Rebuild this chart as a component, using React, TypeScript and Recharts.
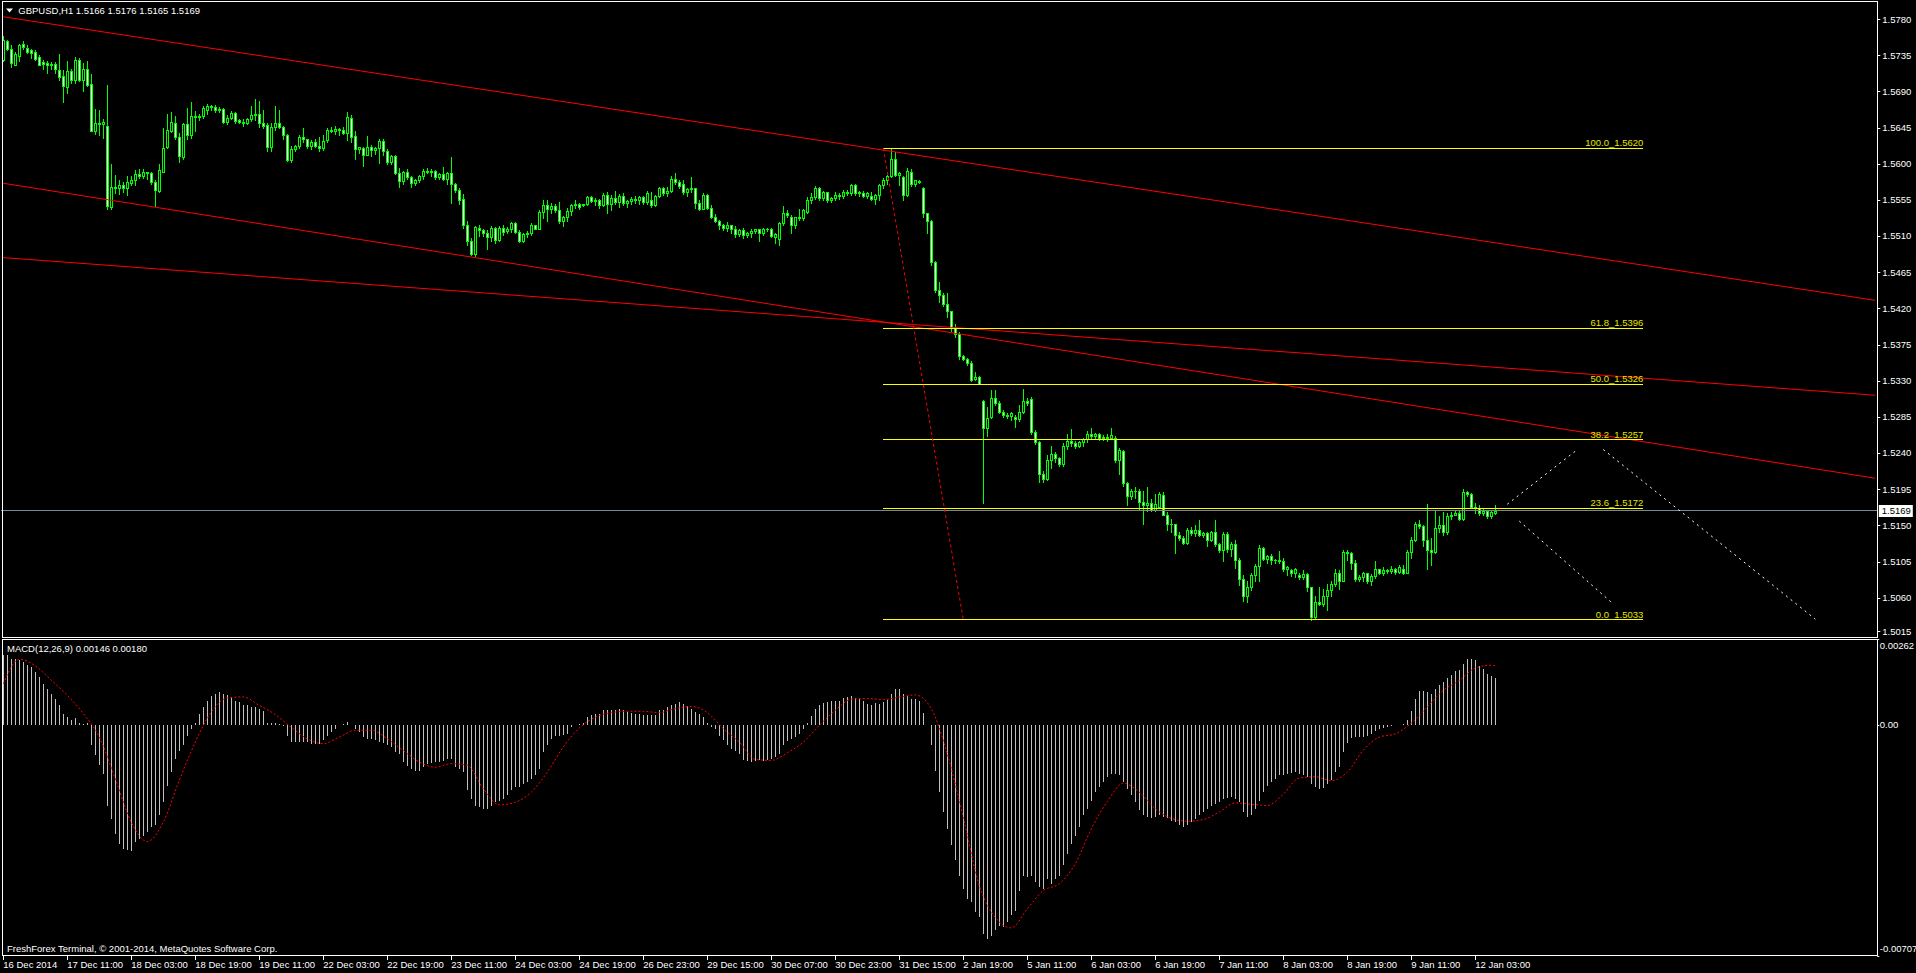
import { ComposedChart, Bar, Line, XAxis, YAxis, ReferenceLine } from "recharts";

// GBPUSD H1 candles, prices in pips above 1.5000: [open, high, low, close]
const candlesMidDec = [
  [730,760,728,755],[754,755,742,743],[743,748,721,726],[724,740,723,737],[735,750,729,749],
  [750,753,744,746],[745,748,738,740],[742,743,732,739],[740,742,730,731],[733,736,723,724],
  [727,730,718,725],[726,728,714,724],[725,727,718,724],[725,727,714,718],[717,737,705,709],
  [710,717,677,697],[696,728,689,716],[716,718,701,705],[705,734,701,730],[730,732,704,705],
  [705,726,691,719],[719,728,698,699],[700,713,641,642],[642,669,638,652],[652,667,637,650],
  [650,656,633,653],[648,699,545,548],[547,601,544,572],[572,587,564,570],[570,581,563,574],
  [574,578,566,570],[570,585,562,578],[577,586,574,581],[580,593,574,588],[588,594,583,586],
  [586,594,583,591],[590,591,582,589],[589,590,576,578],[578,580,548,568],[567,600,566,593],
  [591,645,590,620],[621,662,620,643],[642,665,640,653],[652,660,632,634],[634,639,603,610],
  [609,652,606,650],[650,670,632,636],[636,677,633,660],[660,666,641,659],[659,662,655,660],
  [660,672,658,670],[668,675,663,673],[673,674,668,671],[671,674,665,667],[667,671,665,669],
  [669,670,652,653],[653,661,650,658],[658,666,656,664],[664,665,652,654],[655,656,651,653],
  [653,656,648,652],[652,658,650,656],[656,672,654,661],[661,681,655,663],[663,679,647,652],
  [652,668,645,648],[649,652,617,621],[622,652,616,647],[646,673,643,651],[651,668,645,647],
  [647,648,632,636],[637,638,604,605],[605,623,603,619],[619,624,617,623],[623,636,620,634],
  [634,645,628,631],[631,632,620,623],[623,630,619,628],[628,631,621,623],[623,634,617,620],
  [620,637,618,629],[630,645,628,643],[643,646,640,641],[641,648,638,644],[644,645,636,643],
  [643,646,638,639],[639,665,630,659],[658,661,628,634],[635,642,607,619],[619,622,614,621],
  [620,622,598,612],[612,635,612,622],[622,624,610,618],[618,622,613,620],[620,632,602,629],
  [629,631,612,616],[616,619,600,603]
];

const candlesLateDec = [
  [603,612,601,610],[610,612,588,589],[589,596,572,579],
  [579,592,575,590],[590,594,582,584],[584,585,572,577],[577,582,574,580],[580,587,578,585],
  [585,594,582,592],[592,596,589,591],[591,594,586,592],[592,593,582,584],[584,589,582,588],
  [588,597,580,582],[582,591,576,589],[589,609,552,575],[575,577,566,568],[568,571,550,556],
  [557,563,521,524],[524,530,500,504],[505,508,487,489],[489,523,486,522],[521,524,511,518],
  [518,519,511,515],[515,518,494,510],[510,523,505,521],[521,522,502,506],[506,523,504,521],
  [521,525,512,516],[517,522,514,520],[520,528,516,527],[527,528,514,516],[516,518,503,505],
  [505,514,503,513],[513,517,510,514],[514,527,512,524],[524,525,519,520],[520,543,519,541],
  [541,555,533,549],[549,555,530,545],[545,552,540,548],[548,551,541,543],[543,553,527,529],
  [529,536,523,535],[535,546,530,542],[542,551,537,549],[549,556,546,551],[551,552,545,547],
  [549,550,548,550],[550,561,549,559],[559,560,553,554],[554,558,549,556],[556,557,546,549],
  [549,564,548,562],[562,565,540,551],[551,562,543,558],[558,567,550,553],[553,563,547,561],
  [561,564,549,552],[552,556,547,554],[554,559,550,557],[557,561,552,555],[555,561,551,559],
  [559,560,550,553],[553,567,551,564],[556,565,547,549],[549,562,548,561],[561,572,559,570],
  [570,572,562,564],[564,572,560,567],[567,585,565,582],[582,589,576,578],[578,580,570,573],
  [576,580,563,565],[565,570,560,569],[569,584,566,570],[570,571,546,552],[552,555,543,545],
  [545,564,544,562],[562,563,544,546],[546,549,533,535],[535,538,528,530],[530,531,520,524],
  [524,526,518,521],[521,528,517,524],[524,525,514,520],[520,523,510,513],[513,519,511,518],
  [518,521,508,512],[512,516,509,515],[515,519,510,517],[517,520,514,519],[519,520,505,515],
  [515,521,512,519],[519,521,517,520]
];

const candlesNewYear = [
  [520,521,510,511],[510,514,502,513],[507,528,500,527],
  [527,548,524,539],[539,543,534,537],[534,537,514,524],[524,535,521,534],[534,545,531,533],
  [533,545,531,543],[541,559,539,556],[556,564,552,559],[559,573,557,570],[570,572,556,558],
  [558,567,556,565],[565,566,553,555],[556,559,553,558],[558,565,556,562],[562,564,557,560],
  [560,568,558,566],[566,568,562,564],[564,576,562,574],[574,575,562,564],[564,567,561,566],
  [564,567,559,561],[561,565,558,564],[561,565,555,557],[557,563,550,562],[562,576,556,574],
  [574,583,571,580],[580,587,576,585],[585,620,584,607],[606,615,586,587],[587,590,574,589],
  [584,585,556,562],[562,596,560,592],[590,594,573,576],[576,581,573,580],[579,580,577,578],
  [571,572,534,539],[539,540,515,529],[530,531,475,479],[478,480,441,444],[444,453,429,437],
  [437,440,424,426],[426,440,410,417],[417,418,393,396],[396,401,385,389],[389,391,358,361],
  [361,363,356,358],[358,359,350,353],[353,355,330,332],[333,341,331,335],[335,336,326,327],
  [305,307,179,272],[272,298,262,284],[285,319,284,309],[309,319,301,303],[303,305,290,292],
  [292,294,285,288],[288,291,284,287],[287,292,282,290],[286,288,273,283],[283,300,281,292],
  [292,320,290,305],[305,309,300,303],[308,310,265,267],[267,269,252,254],[254,256,205,215],
  [215,218,205,208],[209,238,207,232],[232,249,222,240],[240,242,230,234],[234,236,224,227],
  [227,253,225,250],[250,264,246,256],[256,271,250,253],[253,256,247,249],[249,256,248,254],
  [254,260,249,258],[258,268,255,265],[265,272,260,262],[262,266,258,264],[264,266,257,259],
  [259,263,257,261],[261,264,256,259],[259,272,258,263],[259,262,229,232],[232,247,215,245],
  [243,245,200,203],[203,205,176,187],[187,196,183,194],[194,198,185,193],[193,196,170,180],
  [180,193,153,176],[176,199,169,178]
];

const candlesJan = [
  [178,184,168,170],[170,190,168,177],[174,192,172,190],
  [189,192,163,164],[164,167,145,153],[153,158,142,152],[152,153,116,139],[139,142,133,135],
  [135,138,127,129],[129,147,128,145],[145,149,139,141],[141,151,137,145],[145,157,138,139],
  [139,143,136,141],[141,143,125,132],[132,144,131,142],[142,157,125,127],[127,129,117,120],
  [120,143,106,140],[140,142,118,121],[121,130,113,128],[128,133,98,107],[107,110,76,84],
  [84,89,56,63],[63,82,55,74],[74,91,70,89],[89,103,82,100],[100,126,81,122],
  [122,124,107,109],[109,114,104,112],[112,115,102,107],[107,109,104,108],[108,119,104,106],
  [106,110,94,96],[96,100,89,99],[95,97,88,91],[91,98,86,96],[89,92,84,87],
  [87,95,84,90],[90,91,69,74],[74,74,33,37],[37,63,35,55],[55,74,51,53],
  [53,72,50,63],[63,78,45,70],[70,82,63,78],[78,96,75,92],[92,95,72,82],
  [82,120,81,118],[118,120,107,116],[116,118,96,104],[104,107,81,84],[84,89,82,87],
  [87,93,81,91],[91,92,79,82],[82,90,76,88],[88,106,85,96],[96,97,90,92],
  [92,99,89,95],[95,97,91,94],[94,100,92,96],[96,98,90,93],[93,101,91,99],
  [97,101,90,92],[92,120,91,117],[117,136,110,132],[132,155,131,152],[152,157,147,150],
  [150,151,125,132],[132,177,97,120],[120,135,101,117],[117,170,116,147],[147,162,142,151],
  [151,167,139,142],[142,166,140,162],[162,167,158,164],[164,169,163,166],[166,170,157,158],
  [158,196,157,192],[192,194,187,190],[190,191,172,174],[174,178,166,172],[172,176,164,166],
  [166,171,163,168],[168,170,160,162],[162,168,160,167],[166,176,165,169]
];

// MACD(12,26,9) main buffer, units of 0.00001
const macdDec = [
  212,212,202,200,197,192,184,176,161,146,
  125,110,95,80,59,34,24,13,20,6,
  3,6,-63,-94,-124,-150,-247,-288,-334,-364,
  -379,-383,-385,-359,-349,-339,-328,-313,-308,-277,
  -237,-186,-145,-104,-79,-63,-35,-12,6,34,
  54,74,87,95,100,95,90,85,74,69,
  61,59,54,54,49,41,6,6,6,3,
  -3,-33,-53,-53,-53,-53,-53,-58,-58,-58,
  -48,-33,-22,-12,-2,3,8,-2,-12,-22,
  -38,-43,-45,-48,-53,-55,-63,-68,-84,-89,
  -114,-126,-135,-140,-140,-130,-119,-116,-114,-114,
  -112,-104,-104,-130,-135,-145,-201,-226,-247,-252,
  -257,-259,-247,-237,-232,-226,-216,-201,-191,-191,
  -181,-175,-165,-153,-135,-84,-63,-43,-35,-33,
  -31,-28,-7,-2,1,6,23,31,34,34,
  44,44,44,44,47,44,39,37,34,34,
  29,31,29,29,44,44,54,59,64,69,
  64,57,49,39,34,23,6,-7,-12,-33,
  -48,-63,-73,-79,-89,-109,-112,-114,-112
];

const macdJan = [
  -109,-112,-109,-104,-99,-89,-63,-51,-45,-38,-28,
  -12,6,26,49,59,67,69,71,73,74,
  82,85,87,82,80,74,64,59,66,64,
  69,77,95,108,108,95,87,80,80,74,
  37,-2,-63,-140,-206,-267,-318,-369,-415,-461,
  -502,-532,-543,-573,-589,-640,-655,-645,-629,-614,
  -619,-604,-583,-568,-507,-461,-466,-461,-481,-497,
  -502,-471,-487,-471,-461,-430,-395,-364,-339,-313,
  -277,-257,-232,-206,-191,-175,-160,-150,-150,-155,
  -175,-196,-216,-237,-262,-277,-283,-286,-283,-277,
  -283,-286,-293,-298,-308,-313,-306,-298,-288,-277,
  -267,-257,-249,-242,-237,-226,-224,-221,-226,-237,
  -267,-283,-277,-257,-232,-206,-186,-175,-165,-155,
  -153,-150,-147,-145,-150,-153,-160,-181,-191,-196,
  -194,-181,-170,-145,-130,-84,-55,-41,-38,-38,
  -38,-33,-28,-20,-12,-10,-7,-4,-2,-2,
  3,13,41,78,102,102,100,95,110,122,
  131,143,153,163,166,187,202,200,197,180,
  171,156,149,143
];

// signal line read every 4th bar, the last value is the current bar
const signalSamples = [
  125,200,180,136,90,34,-38,-165,-298,-357,-298,-170,-53,39,82,85,
  59,31,-8,-43,-58,-38,-17,-17,-43,-79,-114,-130,-119,-124,-196,-245,
  -237,-206,-145,-68,-10,23,37,41,41,37,49,56,37,-12,-53,-106,
  -109,-86,-53,-2,44,78,80,77,84,91,49,-89,-283,-492,-589,-621,
  -563,-507,-486,-425,-318,-235,-179,-206,-257,-286,-295,-290,-267,-239,-243,-247,
  -212,-163,-159,-171,-145,-78,-38,-28,5,54,105,135,173,182,180
];

const dateLabels = [
  "16 Dec 2014", "17 Dec 11:00", "18 Dec 03:00", "18 Dec 19:00", "19 Dec 11:00",
  "22 Dec 03:00", "22 Dec 19:00", "23 Dec 11:00", "24 Dec 03:00", "24 Dec 19:00",
  "26 Dec 23:00", "29 Dec 15:00", "30 Dec 07:00", "30 Dec 23:00", "31 Dec 15:00",
  "2 Jan 19:00", "5 Jan 11:00", "6 Jan 03:00", "6 Jan 19:00", "7 Jan 11:00",
  "8 Jan 03:00", "8 Jan 19:00", "9 Jan 11:00", "12 Jan 03:00"
];

const priceTicks = [
  1.5015, 1.506, 1.5105, 1.515, 1.5195, 1.524, 1.5285, 1.533, 1.5375,
  1.542, 1.5465, 1.551, 1.5555, 1.56, 1.5645, 1.569, 1.5735, 1.578
];
const macdTicks = [0.00262, 0, -0.00707];

const fibLevels = [100, 61.8, 50, 38.2, 23.6, 0];
const fibPrices = [1.562, 1.5396, 1.5326, 1.5257, 1.5172, 1.5033];
const fibBars = [220, 410];
const fibAnchor = [220, 1.562, 240, 1.5033];

// red channel lines: price at the first bar and at the right edge
const trendLines = [
  [1.57836, 1.54307],
  [1.55764, 1.52093],
  [1.54839, 1.53126]
];
// white dotted projections: [bar, price, bar, price]
const projections = [
  [376, 1.5177, 393, 1.5243],
  [400, 1.5245, 453, 1.5034],
  [379, 1.5156, 402, 1.5055]
];
const bidPrice = 1.5169;

const SLOTS = 469; // chart shift leaves empty room after the last bar
const FONT = "'Liberation Sans', Arial, sans-serif";
const LIME = "#00ff00";

const candles = [...candlesMidDec, ...candlesLateDec, ...candlesNewYear, ...candlesJan];
const macd = [...macdDec, ...macdJan];
const lastBar = candles.length - 1;
const pip = (v: number) => 1.5 + v / 10000;

const priceRows = Array.from({ length: SLOTS }, (_, i) => {
  const c = candles[i];
  return c
    ? { i, open: pip(c[0]), high: pip(c[1]), low: pip(c[2]), close: pip(c[3]) }
    : { i };
});

const signalAt = new Map(signalSamples.map((v, k) => [Math.min(k * 4, lastBar), v]));
const macdRows = Array.from({ length: SLOTS }, (_, i) => ({
  i,
  hist: i < macd.length ? macd[i] / 1e5 : undefined,
  signal: signalAt.has(i) ? (signalAt.get(i) as number) / 1e5 : undefined
}));

const Candle = (props: any) => {
  const { x, y, width, height, payload } = props;
  if (!payload || payload.high === undefined) return null;
  const top = Math.min(y, y + height);
  const span = Math.abs(height);
  const range = payload.high - payload.low;
  const at = (p: number) => (range > 0 ? top + ((payload.high - p) / range) * span : top);
  const col = Math.floor(x + width / 2);
  const yO = at(payload.open);
  const yC = at(payload.close);
  const bodyTop = Math.round(Math.min(yO, yC));
  const bodyBot = Math.round(Math.max(yO, yC));
  const bear = payload.close < payload.open;
  return (
    <g shapeRendering="crispEdges">
      <line
        x1={col + 0.5}
        x2={col + 0.5}
        y1={Math.round(top)}
        y2={Math.round(top + span) + 1}
        stroke={LIME}
      />
      {bodyBot - bodyTop < 1 ? (
        <line x1={col - 1} x2={col + 2} y1={bodyTop + 0.5} y2={bodyTop + 0.5} stroke={LIME} />
      ) : (
        <rect
          x={col - 0.5}
          y={bodyTop + 0.5}
          width={2}
          height={bodyBot - bodyTop}
          fill={bear ? "#ffffff" : "#000000"}
          stroke={LIME}
        />
      )}
    </g>
  );
};

const HistBar = (props: any) => {
  const { x, y, width, height } = props;
  if (!height) return null;
  const col = Math.floor(x + width / 2);
  const y1 = Math.min(y, y + height);
  const y2 = Math.max(y, y + height);
  return (
    <line x1={col + 0.5} x2={col + 0.5} y1={y1} y2={y2} stroke="#c0c0c0" shapeRendering="crispEdges" />
  );
};

const PriceTick = ({ x, y, payload }: any) => {
  const v = Number(payload.value);
  // MT4 keeps the lowest label clear of the panel border
  const shift = v === priceTicks[0] ? -3 : -0.5;
  return (
    <g>
      <line x1={x} x2={x + 3} y1={Math.round(y + shift) + 0.5} y2={Math.round(y + shift) + 0.5} stroke="#fff" />
      <text x={x + 5} y={y + shift} dy="0.35em" fill="#fff" fontSize={9.5} fontFamily={FONT}>
        {v.toFixed(4)}
      </text>
    </g>
  );
};

const MacdTick = ({ x, y, payload }: any) => {
  const v = Number(payload.value);
  const shift = v === macdTicks[0] ? 6.6 : v === macdTicks[2] ? -7.5 : 0;
  return (
    <g>
      <line x1={x} x2={x + 2} y1={Math.round(y) + 0.5} y2={Math.round(y) + 0.5} stroke="#fff" />
      <text x={x + 2.5} y={y + shift} dy="0.35em" fill="#fff" fontSize={9.5} fontFamily={FONT}>
        {v === 0 ? "0.00" : v.toFixed(5)}
      </text>
    </g>
  );
};

const DateTick = ({ x, y, payload }: any) => {
  const label = dateLabels[Math.round(Number(payload.value) / 16)];
  const col = Math.floor(x) + 0.5;
  return (
    <g>
      <line x1={col} x2={col} y1={y} y2={y + 4} stroke="#fff" />
      <text x={x} y={y + 8.3} dy="0.35em" fill="#fff" fontSize={9.5} fontFamily={FONT}>
        {label}
      </text>
    </g>
  );
};

const FibLabel = ({ viewBox, text }: any) => {
  if (!viewBox) return null;
  return (
    <text
      x={viewBox.x + viewBox.width}
      y={viewBox.y - 2}
      textAnchor="end"
      fill="#e6e600"
      fontSize={9.5}
      fontFamily={FONT}
    >
      {text}
    </text>
  );
};

const BidBox = ({ viewBox }: any) => {
  if (!viewBox) return null;
  const bx = viewBox.x + viewBox.width + 1.5;
  const by = Math.round(viewBox.y) - 6;
  return (
    <g>
      <rect x={bx} y={by} width={34} height={12} fill="#fff" />
      <text x={bx + 3} y={by + 6} dy="0.35em" fill="#000" fontSize={9.5} fontFamily={FONT}>
        {bidPrice.toFixed(4)}
      </text>
    </g>
  );
};

export default function App() {
  return (
    <div
      style={{
        position: "fixed",
        left: 0,
        top: 0,
        width: 1916,
        height: 973,
        background: "#000",
        overflow: "hidden"
      }}
    >
      <div style={{ position: "absolute", left: 0, top: 0 }}>
        <ComposedChart
          width={1916}
          height={637}
          data={priceRows}
          margin={{ top: 2, right: 0, bottom: 1, left: 1.3 }}
          barCategoryGap={0}
        >
          <XAxis dataKey="i" type="category" hide />
          <YAxis
            orientation="right"
            width={38.7}
            domain={[1.5013, 1.5802]}
            allowDataOverflow
            ticks={priceTicks}
            interval={0}
            tick={<PriceTick />}
            tickSize={0}
            tickMargin={0}
            axisLine={false}
            tickLine={false}
          />
          <ReferenceLine
            y={bidPrice}
            stroke="#778899"
            shapeRendering="crispEdges"
            label={<BidBox />}
          />
          {trendLines.map((t, k) => (
            <ReferenceLine
              key={`t${k}`}
              segment={[{ x: 0, y: t[0] }, { x: SLOTS - 1, y: t[1] }]}
              stroke="#ff0000"
              ifOverflow="visible"
            />
          ))}
          {fibPrices.map((p, k) => (
            <ReferenceLine
              key={`f${k}`}
              segment={[{ x: fibBars[0], y: p }, { x: fibBars[1], y: p }]}
              stroke="#ffff00"
              shapeRendering="crispEdges"
              label={<FibLabel text={`${fibLevels[k].toFixed(1)}_${p.toFixed(4)}`} />}
            />
          ))}
          <ReferenceLine
            segment={[{ x: fibAnchor[0], y: fibAnchor[1] }, { x: fibAnchor[2], y: fibAnchor[3] }]}
            stroke="#ff0000"
            strokeDasharray="3 3"
          />
          {projections.map((p, k) => (
            <ReferenceLine
              key={`p${k}`}
              segment={[{ x: p[0], y: p[1] }, { x: p[2], y: p[3] }]}
              stroke="#ffffff"
              strokeDasharray="2 4"
            />
          ))}
          <Bar
            dataKey={(d: any) => (d.high === undefined ? null : [d.low, d.high])}
            shape={(p: any) => <Candle {...p} />}
            isAnimationActive={false}
          />
        </ComposedChart>
      </div>

      <div style={{ position: "absolute", left: 0, top: 637 }}>
        <ComposedChart
          width={1916}
          height={336}
          data={macdRows}
          margin={{ top: 2, right: 0, bottom: 0, left: 1.3 }}
          barCategoryGap={0}
        >
          <XAxis
            dataKey="i"
            type="category"
            ticks={dateLabels.map((_, k) => k * 16)}
            interval={0}
            height={17}
            tick={<DateTick />}
            tickSize={0}
            tickMargin={0}
            axisLine={false}
            tickLine={false}
          />
          <YAxis
            orientation="right"
            width={38.7}
            domain={[macdTicks[2], macdTicks[0]]}
            allowDataOverflow
            ticks={macdTicks}
            interval={0}
            tick={<MacdTick />}
            tickSize={0}
            tickMargin={0}
            axisLine={false}
            tickLine={false}
          />
          <Bar dataKey="hist" shape={(p: any) => <HistBar {...p} />} isAnimationActive={false} />
          <Line
            dataKey="signal"
            type="monotone"
            stroke="#ff0000"
            strokeWidth={1}
            strokeDasharray="2 2"
            dot={false}
            activeDot={false}
            connectNulls
            isAnimationActive={false}
          />
        </ComposedChart>
      </div>

      <svg
        width={1916}
        height={973}
        style={{ position: "absolute", left: 0, top: 0, pointerEvents: "none" }}
      >
        <rect x={2.5} y={1.5} width={1875} height={636} fill="none" stroke="#fff" />
        <rect x={2.5} y={639.5} width={1875} height={316} fill="none" stroke="#fff" />
        <polygon points="6,8.5 13,8.5 9.5,12.5" fill="#fff" />
        <text x={18.3} y={14.2} fill="#fff" fontSize={9.5} fontFamily={FONT}>
          GBPUSD,H1  1.5166 1.5176 1.5165 1.5169
        </text>
        <text x={7} y={652} fill="#fff" fontSize={9.5} fontFamily={FONT}>
          MACD(12,26,9) 0.00146 0.00180
        </text>
        <text x={7} y={951.5} fill="#fff" fontSize={9.5} fontFamily={FONT}>
          FreshForex Terminal, © 2001-2014, MetaQuotes Software Corp.
        </text>
      </svg>
    </div>
  );
}
